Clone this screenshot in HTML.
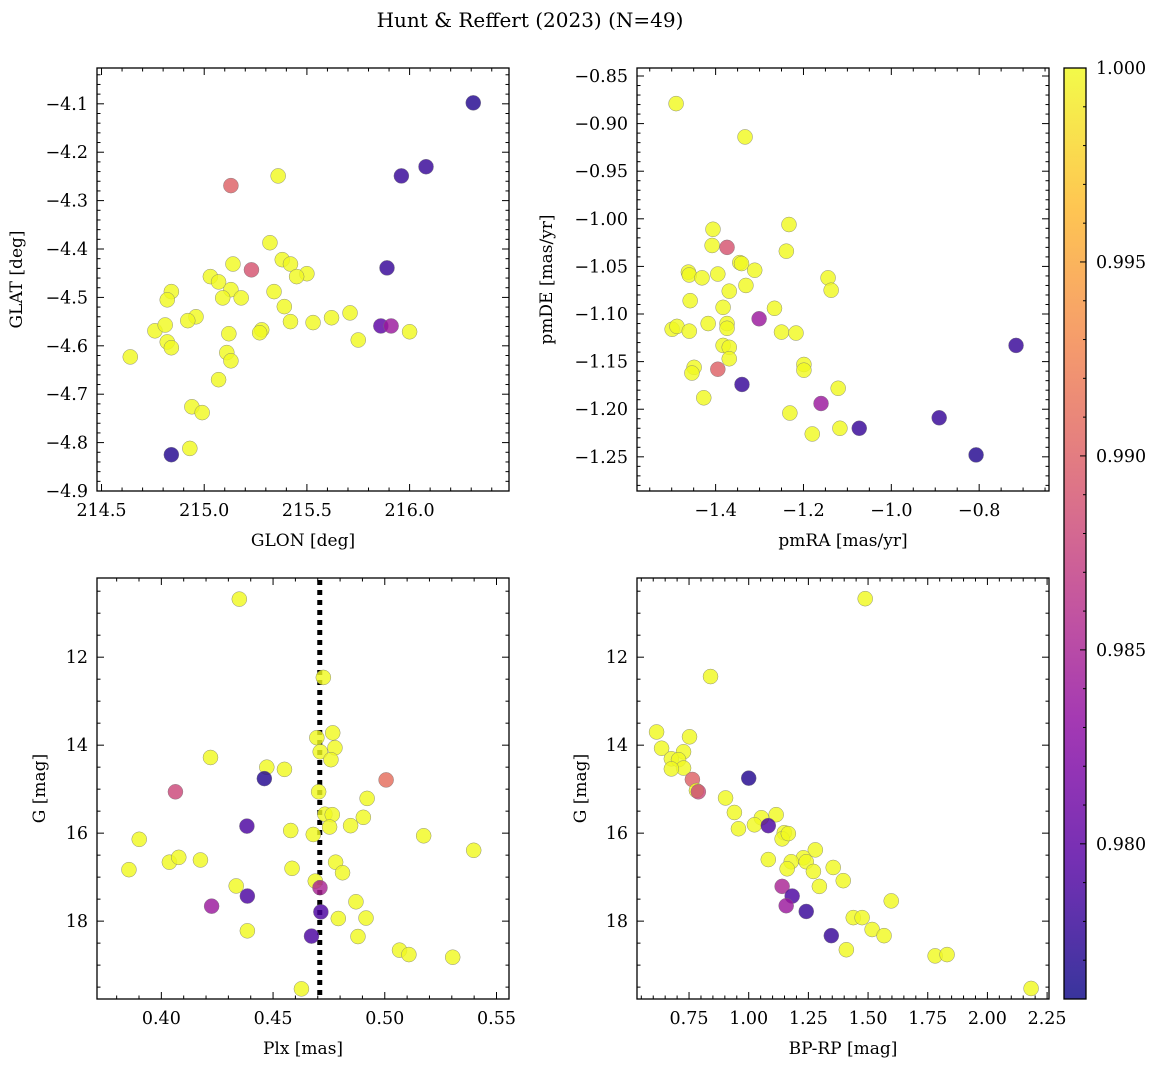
<!DOCTYPE html>
<html><head><meta charset="utf-8"><style>
body{margin:0;background:#fff}
svg text{font-family:"DejaVu Serif","Liberation Serif",serif;fill:#000}
</style></head><body>
<svg id="fig" width="1161" height="1067" viewBox="0 0 1161 1067" xmlns="http://www.w3.org/2000/svg">
<text x="530" y="27" font-size="20" text-anchor="middle">Hunt &amp; Reffert (2023) (N=49)</text>
</svg>
<script>
// Panel 1: GLON vs GLAT
const glon1=[215.13,215.36,216.31,216.08,215.96,215.32,215.23,215.14,215.38,215.42,215.89,215.50,215.03,215.07,214.84,215.13,215.34,215.45,215.18,215.09,214.82,215.39,214.96,215.71,215.62,215.42,215.53,214.92,215.12,215.28,215.27,214.76,214.81,215.86,215.91,216.00,215.75,214.82,214.84,215.11,215.13,214.64,215.07,214.94,214.99,214.93,214.84];
const glat1=[-4.269,-4.249,-4.098,-4.230,-4.249,-4.387,-4.443,-4.431,-4.422,-4.431,-4.439,-4.451,-4.457,-4.468,-4.488,-4.484,-4.488,-4.457,-4.501,-4.501,-4.505,-4.519,-4.540,-4.532,-4.542,-4.550,-4.552,-4.548,-4.575,-4.567,-4.573,-4.569,-4.557,-4.559,-4.559,-4.571,-4.588,-4.592,-4.604,-4.614,-4.631,-4.623,-4.670,-4.726,-4.738,-4.812,-4.825];
const prob1=[0.990,1,0.977,0.978,0.978,1,0.989,1,1,1,0.978,1,1,1,1,1,1,1,1,1,1,1,1,1,1,1,1,1,1,1,1,1,1,0.980,0.984,1,1,1,1,1,1,1,1,1,1,1,0.977];
// Panel 2: pmRA vs pmDE
const pmra2=[-1.49,-1.333,-1.233,-1.406,-1.408,-1.374,-1.239,-1.345,-1.341,-1.311,-1.462,-1.460,-1.395,-1.431,-1.144,-1.137,-1.331,-1.369,-1.458,-1.383,-1.266,-1.499,-1.488,-1.417,-1.374,-1.374,-1.301,-1.460,-1.250,-1.217,-1.383,-1.369,-1.369,-1.340,-1.449,-1.454,-1.199,-1.199,-1.395,-1.121,-1.427,-1.160,-1.231,-0.891,-1.117,-1.073,-1.180,-0.807,-0.716];
const pmde2=[-0.879,-0.914,-1.006,-1.011,-1.028,-1.030,-1.034,-1.046,-1.047,-1.054,-1.056,-1.059,-1.058,-1.062,-1.062,-1.075,-1.070,-1.076,-1.086,-1.093,-1.094,-1.116,-1.113,-1.110,-1.110,-1.115,-1.105,-1.118,-1.119,-1.120,-1.133,-1.135,-1.147,-1.174,-1.156,-1.162,-1.153,-1.159,-1.158,-1.178,-1.188,-1.194,-1.204,-1.209,-1.220,-1.220,-1.226,-1.248,-1.133];
const prob2=[1,1,1,1,1,0.989,1,1,1,1,1,1,1,1,1,1,1,1,1,1,1,1,1,1,1,1,0.984,1,1,1,1,1,1,0.978,1,1,1,1,0.990,1,1,0.984,1,0.978,1,0.978,1,0.977,0.978];
// Panel 3: Plx vs G
const plx3=[0.4349,0.4725,0.4767,0.4696,0.4777,0.4711,0.4759,0.4220,0.4472,0.4551,0.4461,0.5006,0.4063,0.4704,0.4921,0.4732,0.4765,0.4904,0.4753,0.4847,0.4383,0.4579,0.4680,0.5174,0.3901,0.5398,0.3855,0.4036,0.4078,0.4175,0.4585,0.4780,0.4811,0.4335,0.4689,0.4710,0.4385,0.4871,0.4225,0.4714,0.4792,0.4916,0.4385,0.4672,0.4880,0.5066,0.5108,0.5304,0.4627];
const g3=[10.68,12.46,13.72,13.83,14.06,14.15,14.33,14.28,14.50,14.55,14.76,14.79,15.06,15.06,15.21,15.57,15.58,15.64,15.86,15.83,15.84,15.94,16.03,16.06,16.14,16.39,16.83,16.66,16.55,16.61,16.80,16.66,16.90,17.20,17.09,17.24,17.43,17.56,17.66,17.79,17.94,17.93,18.22,18.34,18.35,18.66,18.76,18.82,19.54];
const prob3=[1,1,1,1,1,1,1,1,1,1,0.977,0.991,0.988,1,1,1,1,1,1,1,0.979,1,1,1,1,1,1,1,1,1,1,1,1,1,1,0.985,0.979,1,0.984,0.979,1,1,1,0.979,1,1,1,1,1];
const meanPlx=0.4709;
// Panel 4: BP-RP vs G
const bprp4=[0.614,0.635,0.752,0.727,0.676,0.706,0.727,0.676,0.840,1.488,1.000,0.764,0.781,0.789,0.903,0.940,1.115,1.053,1.024,1.082,0.957,1.149,1.140,1.166,1.279,1.229,1.082,1.178,1.241,1.354,1.161,1.271,1.396,1.296,1.140,1.182,1.597,1.157,1.241,1.438,1.475,1.517,1.567,1.346,1.409,1.781,1.831,2.183];
const g4=[13.70,14.07,13.81,14.15,14.31,14.33,14.52,14.54,12.44,10.67,14.75,14.78,15.03,15.06,15.20,15.53,15.58,15.65,15.81,15.83,15.90,15.99,16.13,16.01,16.38,16.56,16.60,16.65,16.65,16.78,16.81,16.87,17.08,17.21,17.21,17.43,17.54,17.65,17.78,17.92,17.92,18.19,18.33,18.33,18.65,18.79,18.76,19.53];
const prob4=[1,1,1,1,1,1,1,1,1,1,0.977,0.990,1,0.988,1,1,1,1,1,0.979,1,1,1,1,1,1,1,1,1,1,1,1,1,1,0.985,0.979,1,0.984,0.978,1,1,1,1,0.978,1,1,1,1];
const cbTicks=[0.980,0.985,0.990,0.995,1.000];
const VMIN=0.976,VMAX=1.0;

const NS='http://www.w3.org/2000/svg';
const svg=document.getElementById('fig');
function mk(tag,attrs,parent){const e=document.createElementNS(NS,tag);for(const k in attrs)e.setAttribute(k,attrs[k]);(parent||svg).appendChild(e);return e;}
const plasma=[[13,8,135],[84,2,163],[139,10,165],[185,50,137],[219,92,104],[244,136,73],[254,188,43],[240,249,33]];
function cmap(t){t=Math.max(0,Math.min(1,t));const s=t*(plasma.length-1),i=Math.min(Math.floor(s),plasma.length-2),f=s-i;const a=plasma[i],b=plasma[i+1];return 'rgb('+[0,1,2].map(k=>Math.round(a[k]+(b[k]-a[k])*f)).join(',')+')';}
function fmt(v,d){const s=Math.abs(v).toFixed(d);return (v<0?'\u2212':'')+s;}
const TF=17.5, LF=17;

function panel(o){
  const g=mk('g',{});
  
  
  const X=v=>o.L+(v-o.x0)/(o.x1-o.x0)*(o.R-o.L);
  const Y=v=>o.T+(v-o.y0)/(o.y1-o.y0)*(o.B-o.T);
  const tk=mk('g',{stroke:'#000','stroke-width':1},g);
  
  
  const lo=Math.min(o.x0,o.x1),hi=Math.max(o.x0,o.x1);
  for(let v=Math.ceil(lo/o.xm-1e-6)*o.xm;v<=hi+1e-9;v+=o.xm){const x=X(v),maj=Math.abs(v/o.xM-Math.round(v/o.xM))<1e-4,l=maj?7:3.5;
    mk('line',{x1:x,x2:x,y1:o.B,y2:o.B-l},tk);mk('line',{x1:x,x2:x,y1:o.T,y2:o.T+l},tk);}
  const ylo=Math.min(o.y0,o.y1),yhi=Math.max(o.y0,o.y1);
  for(let v=Math.ceil(ylo/o.ym-1e-6)*o.ym;v<=yhi+1e-9;v+=o.ym){const y=Y(v),maj=Math.abs(v/o.yM-Math.round(v/o.yM))<1e-4,l=maj?7:3.5;
    mk('line',{y1:y,y2:y,x1:o.L,x2:o.L+l},tk);mk('line',{y1:y,y2:y,x1:o.R,x2:o.R-l},tk);}
  o.xt.forEach(v=>{const t=mk('text',{x:X(v),y:o.B+25,'font-size':TF,'text-anchor':'middle'},g);t.textContent=fmt(v,o.xd);
    });
  o.yt.forEach(v=>{const t=mk('text',{x:o.L-9,y:Y(v)+6,'font-size':TF,'text-anchor':'end'},g);t.textContent=fmt(v,o.yd);
    });
  const xl=mk('text',{x:(o.L+o.R)/2,y:o.B+55,'font-size':LF,'text-anchor':'middle'},g);xl.textContent=o.xlab;
  
  const yl=mk('text',{x:0,y:0,'font-size':LF,'text-anchor':'middle',transform:'translate('+o.ylx+','+((o.T+o.B)/2)+') rotate(-90)'},g);yl.textContent=o.ylab;
  
  if(o.vline!==undefined){const ln=mk('line',{x1:X(o.vline),x2:X(o.vline),y1:o.T+2,y2:o.B,stroke:'#000','stroke-width':5,'stroke-dasharray':'5 5'},g);
    }
  const pts=mk('g',{},g);
  
  o.xs.forEach((xv,i)=>{const c=mk('circle',{cx:X(xv),cy:Y(o.ys[i]),r:7.5,fill:cmap((o.cs[i]-VMIN)/(VMAX-VMIN)),'fill-opacity':0.82,stroke:'#777','stroke-width':0.5,'stroke-opacity':0.8},pts);
    });
  const fr=mk('rect',{x:o.L,y:o.T,width:o.R-o.L,height:o.B-o.T,fill:'none',stroke:'#000','stroke-width':1.3},g);
  
}

panel({name:'glon-glat-panel',L:97,R:509,T:68,B:491,x0:214.478,x1:216.484,y0:-4.026,y1:-4.9,xM:0.5,xm:0.1,yM:0.1,ym:0.02,
  xt:[214.5,215.0,215.5,216.0],xd:1,yt:[-4.1,-4.2,-4.3,-4.4,-4.5,-4.6,-4.7,-4.8,-4.9],yd:1,xlab:'GLON [deg]',ylab:'GLAT [deg]',ylx:22,
  xs:glon1,ys:glat1,cs:prob1});
panel({name:'proper-motion-panel',L:637,R:1049,T:68,B:491,x0:-1.579,x1:-0.641,y0:-0.8416,y1:-1.2859,xM:0.2,xm:0.05,yM:0.05,ym:0.01,
  xt:[-1.4,-1.2,-1.0,-0.8],xd:1,yt:[-0.85,-0.9,-0.95,-1.0,-1.05,-1.1,-1.15,-1.2,-1.25],yd:2,xlab:'pmRA [mas/yr]',ylab:'pmDE [mas/yr]',ylx:552,
  xs:pmra2,ys:pmde2,cs:prob2});
panel({name:'parallax-panel',L:97,R:509,T:578,B:999,x0:0.3712,x1:0.5556,y0:10.20,y1:19.77,xM:0.05,xm:0.01,yM:2,ym:0.5,
  xt:[0.40,0.45,0.50,0.55],xd:2,yt:[12,14,16,18],yd:0,xlab:'Plx [mas]',ylab:'G [mag]',ylx:45,
  xs:plx3,ys:g3,cs:prob3,vline:meanPlx});
panel({name:'cmd-panel',L:637,R:1049,T:578,B:999,x0:0.532,x1:2.258,y0:10.20,y1:19.77,xM:0.25,xm:0.05,yM:2,ym:0.5,
  xt:[0.75,1.0,1.25,1.5,1.75,2.0,2.25],xd:2,yt:[12,14,16,18],yd:0,xlab:'BP-RP [mag]',ylab:'G [mag]',ylx:586,
  xs:bprp4,ys:g4,cs:prob4});

// colorbar
const cb=mk('g',{});


const defs=mk('defs',{},cb);
const grad=mk('linearGradient',{id:'pl',x1:0,y1:1,x2:0,y2:0},defs);
for(let i=0;i<=20;i++){mk('stop',{offset:(i/20),'stop-color':cmap(i/20)},grad);}
const CT=68,CB=999,CL=1064,CR=1086;
const CY=v=>CB-(v-VMIN)/(VMAX-VMIN)*(CB-CT);
mk('rect',{x:CL,y:CT,width:CR-CL,height:CB-CT,fill:'url(#pl)','fill-opacity':0.82},cb);
for(let v=0.977;v<=1.0001;v+=0.001){const y=CY(v),maj=Math.abs(v*200-Math.round(v*200))<1e-4;
  mk('line',{x1:CR,x2:CR-(maj?6:3),y1:y,y2:y,stroke:'#000','stroke-width':1},cb);}
cbTicks.forEach(v=>{const t=mk('text',{x:CR+10,y:CY(v)+6,'font-size':TF},cb);t.textContent=v.toFixed(3);
  });
mk('rect',{x:CL,y:CT,width:CR-CL,height:CB-CT,fill:'none',stroke:'#000','stroke-width':1.3},cb);
</script>
</body></html>
